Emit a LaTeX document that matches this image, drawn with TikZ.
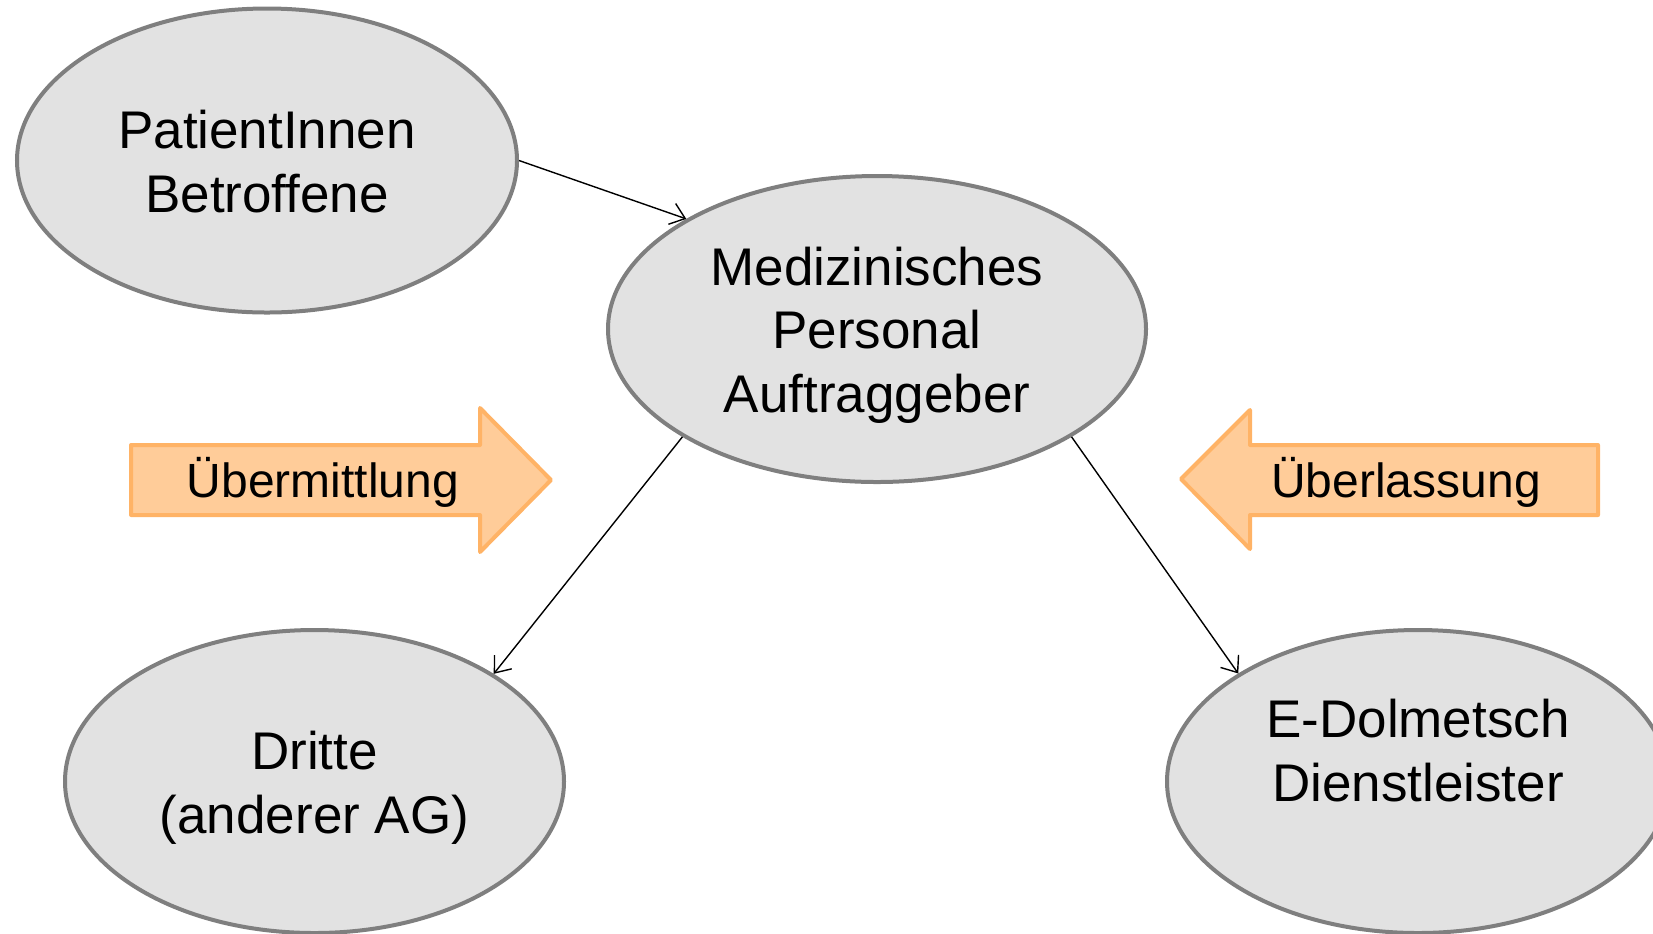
\documentclass[tikz,border=0pt]{standalone}
\usepackage{fontspec}
\setmainfont{Liberation Sans}
\usetikzlibrary{arrows.meta,shapes.geometric}
\definecolor{ellfill}{HTML}{E2E2E2}
\definecolor{elldraw}{HTML}{7F7F7F}
\definecolor{orfill}{HTML}{FFCC99}
\definecolor{ordraw}{HTML}{FFB366}
\newcommand{\ellines}[1]{\raisebox{0pt}[\dimexpr\height+7.2pt\relax][\depth]{\begin{tabular}{@{}c@{}}#1\end{tabular}}}
\tikzset{
  ell/.style={ellipse, draw=elldraw, fill=ellfill, line width=2pt, inner sep=0pt,
    font=\fontsize{26.5pt}{31.7pt}\selectfont},
  conn/.style={draw=black, line width=0.7pt, -{Straight Barb[length=7pt,width=11pt,line width=0.7pt]}},
  bigarrow/.style={fill=orfill, draw=ordraw, line width=2pt, line join=round},
  arrowtext/.style={font=\fontsize{24pt}{28pt}\selectfont, inner sep=0pt}
}
\begin{document}
\begin{tikzpicture}[x=0.5pt,y=-0.5pt]
\useasboundingbox (0,0) rectangle (1653,933);
% ellipses
\node[ell, minimum width=250pt, minimum height=152pt] (pat) at (267,160.5) {\ellines{PatientInnen\\Betroffene}};
\node[ell, minimum width=269pt, minimum height=153pt] (med) at (877,329) {\ellines{Medizinisches\\Personal\\Auftraggeber}};
\node[ell, minimum width=249.5pt, minimum height=151.5pt] (dri) at (314.5,781.5) {\ellines{Dritte\\(anderer AG)}};
\node[ell, minimum width=251pt, minimum height=151.5pt] (dol) at (1418,781.5) {\ellines{E-Dolmetsch\\Dienstleister\\\mbox{}}};
% big arrows
\draw[bigarrow] (131,445) -- (480,445) -- (480,408) -- (551,480) -- (480,552) -- (480,515) -- (131,515) -- cycle;
\node[arrowtext] (ueb) at (323,482) {Übermittlung};
\draw[bigarrow] (1598,445) -- (1250,445) -- (1250,410) -- (1181,479) -- (1250,549) -- (1250,515) -- (1598,515) -- cycle;
\node[arrowtext] (ubl) at (1406,482) {Überlassung};
% connectors
\draw[conn] (pat.east) -- (med.150.4);
\draw[conn] (med.209) -- (dri.31);
\draw[conn] (med.331) -- (dol.149);
\end{tikzpicture}
\end{document}
